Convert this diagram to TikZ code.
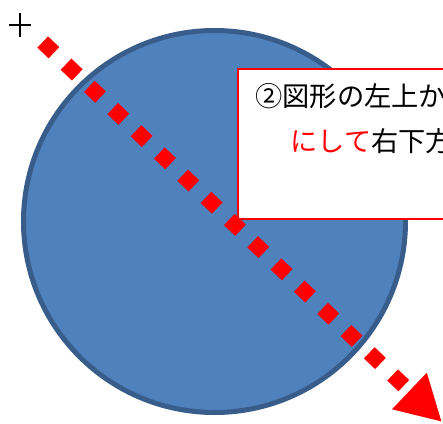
\documentclass[tikz,border=0pt]{standalone}
\usepackage{xcolor}
\usepackage{fontspec}
\usepackage{tikz}
\usetikzlibrary{positioning,arrows.meta}

\newfontfamily\jpfont{Noto Sans CJK JP}
\definecolor{shapefill}{HTML}{4F81BD}
\definecolor{shapeline}{HTML}{385D8A}
\definecolor{dragred}{HTML}{FF0000}

\begin{document}
\begin{tikzpicture}[x=0.02cm, y=-0.02cm,
  circshape/.style={circle, draw=shapeline, fill=shapefill, line width=5*0.02cm},
  note/.style={draw=dragred, fill=white, line width=2*0.02cm},
  notetext/.style={font=\jpfont\fontsize{15.5pt}{18pt}\selectfont, anchor=base west, inner sep=0pt},
  drag/.style={dragred, line width=15.5*0.02cm, dash pattern=on 15.5*0.02cm off 16.7*0.02cm,
    -{Triangle[length=45*0.02cm, width=47*0.02cm]}}]
\useasboundingbox (0,0) rectangle (443,423);
\clip (0,0) rectangle (443,423);

% the shape being drawn
\node[circshape, minimum size=382*0.02cm, inner sep=0pt] (circ) at (214.5,221.5) {};

% cursor start mark
\coordinate (cross) at (20,25);
\draw[line width=2*0.02cm] ([xshift=-11*0.02cm]cross) -- ([xshift=11*0.02cm]cross);
\draw[line width=2*0.02cm] ([yshift=12*0.02cm]cross) -- ([yshift=-12*0.02cm]cross);

% drag direction
\coordinate (start) at (42.7,42);
\coordinate (end) at (442,422);
\draw[drag] (start) -- (end);

% explanation box
\node[note, anchor=north west, minimum width=230*0.02cm, minimum height=150*0.02cm] (box) at (237,68) {};
\node[notetext] (line1) at (255,106) {②図形の左上か};
\node[notetext] (line2) at (290,151) {{\color{dragred}にして}右下方};

\end{tikzpicture}
\end{document}
